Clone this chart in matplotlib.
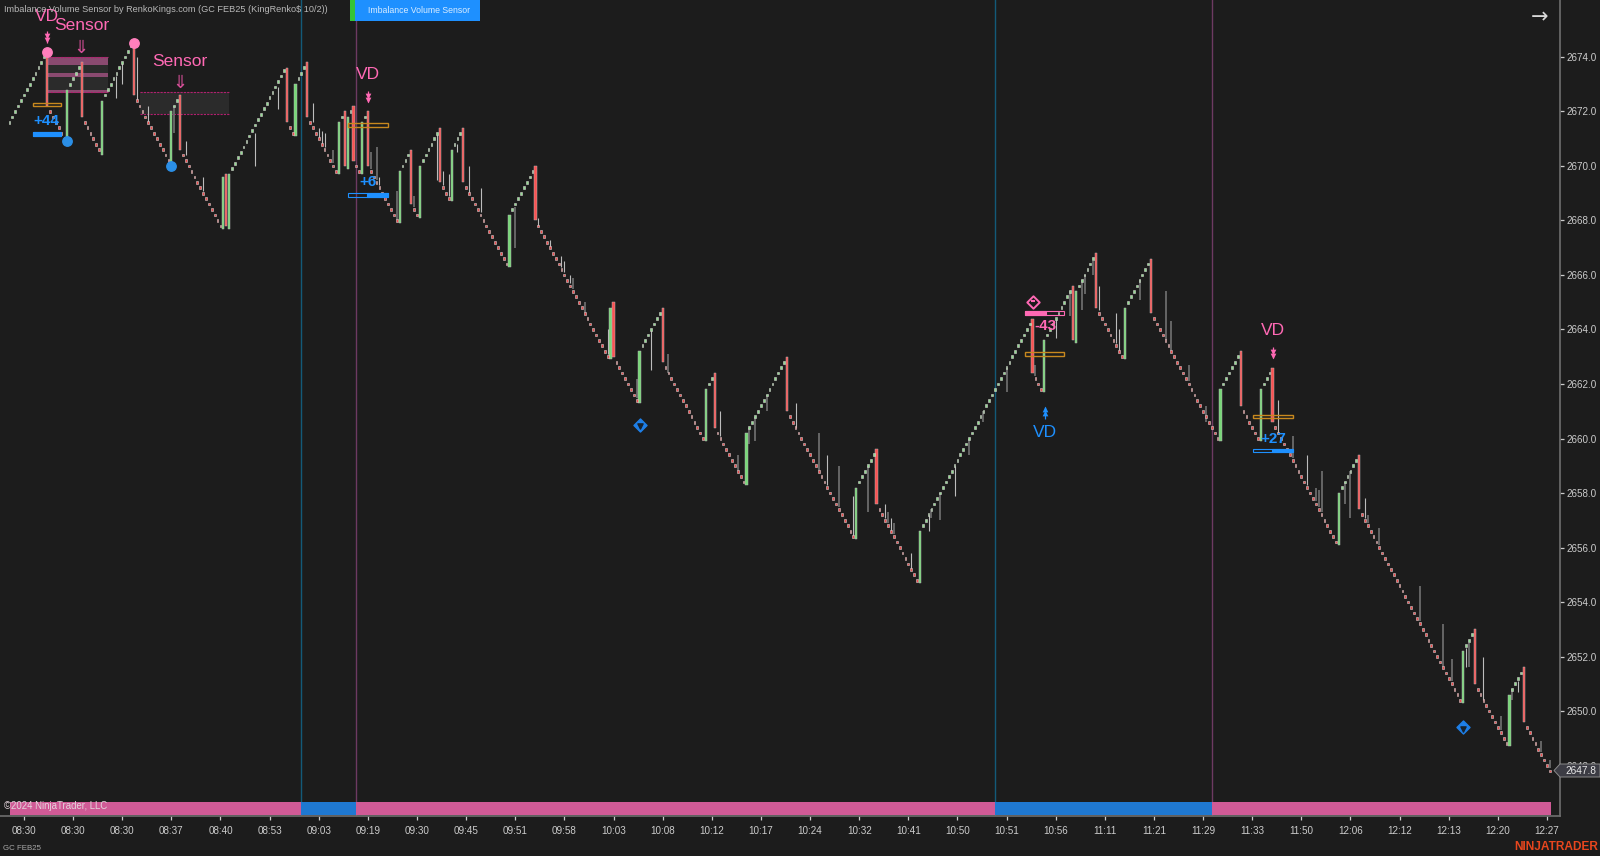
import matplotlib
matplotlib.use("Agg")
import matplotlib.pyplot as plt
from matplotlib.patches import Rectangle, Polygon

plt.rcParams['font.family'] = ['Liberation Sans', 'DejaVu Sans']

# one close per renko bar, a new line at each leg or reversal bar
closes = [
    2671.6, 2671.8, 2672.0, 2672.2, 2672.4, 2672.6, 2672.8, 2673.0, 2673.2, 2673.4, 2673.6, 2673.8, 2674.0,
    2672.2,
    2672.0, 2671.8, 2671.6, 2671.4, 2671.2, 2671.0,
    2672.8,
    2673.0, 2673.2, 2673.4, 2673.6,
    2671.8,
    2671.6, 2671.4, 2671.2, 2671.0, 2670.8, 2670.6,
    2672.4,
    2672.6, 2672.8, 2673.0, 2673.2, 2673.4, 2673.6, 2673.8, 2674.0, 2674.2, 2674.4,
    2672.6,
    2672.4, 2672.2, 2672.0, 2671.8, 2671.6, 2671.4, 2671.2, 2671.0, 2670.8, 2670.6, 2670.4, 2670.2,
    2672.0,
    2672.2, 2672.4,
    2670.6,
    2670.4, 2670.2, 2670.0, 2669.8, 2669.6, 2669.4, 2669.2, 2669.0, 2668.8, 2668.6, 2668.4, 2668.2, 2668.0, 2667.8,
    2669.6, 2667.8, 2669.7,
    2669.9, 2670.1, 2670.3, 2670.5, 2670.7, 2670.9, 2671.1, 2671.3, 2671.5, 2671.7, 2671.9, 2672.1, 2672.3, 2672.5, 2672.7, 2672.9, 2673.1, 2673.3, 2673.5,
    2671.6,
    2671.4, 2671.2,
    2673.0,
    2673.2, 2673.4, 2673.6,
    2671.8,
    2671.6, 2671.4, 2671.2, 2671.0, 2670.8, 2670.6, 2670.4, 2670.2, 2670.0, 2669.8,
    2671.6,
    2671.8,
    2670.0, 2671.8,
    2672.0,
    2670.2,
    2670.0, 2669.8,
    2671.6,
    2671.8,
    2670.0,
    2669.8, 2669.6, 2669.4, 2669.2, 2669.0, 2668.8, 2668.6, 2668.4, 2668.2, 2668.0,
    2669.8,
    2670.0, 2670.2, 2670.4,
    2668.6,
    2668.4, 2668.2,
    2670.0,
    2670.2, 2670.4, 2670.6, 2670.8, 2671.0, 2671.2,
    2669.4,
    2669.2, 2669.0, 2668.8,
    2670.6,
    2670.8, 2671.0, 2671.2,
    2669.4,
    2669.2, 2669.0, 2668.8, 2668.6, 2668.4, 2668.2, 2668.0, 2667.8, 2667.6, 2667.4, 2667.2, 2667.0, 2666.8, 2666.6, 2666.4,
    2668.2,
    2668.4, 2668.6, 2668.8, 2669.0, 2669.2, 2669.4, 2669.6, 2669.8,
    2668.0,
    2667.8, 2667.6, 2667.4, 2667.2, 2667.0, 2666.8, 2666.6, 2666.4, 2666.2, 2666.0, 2665.8, 2665.6, 2665.4, 2665.2, 2665.0, 2664.8, 2664.6, 2664.4, 2664.2, 2664.0, 2663.8, 2663.6, 2663.4, 2663.2, 2663.0,
    2664.8, 2663.0,
    2662.8, 2662.6, 2662.4, 2662.2, 2662.0, 2661.8, 2661.6, 2661.4,
    2663.2,
    2663.4, 2663.6, 2663.8, 2664.0, 2664.2, 2664.4, 2664.6,
    2662.8,
    2662.6, 2662.4, 2662.2, 2662.0, 2661.8, 2661.6, 2661.4, 2661.2, 2661.0, 2660.8, 2660.6, 2660.4, 2660.2, 2660.0,
    2661.8,
    2662.0, 2662.2,
    2660.4,
    2660.2, 2660.0, 2659.8, 2659.6, 2659.4, 2659.2, 2659.0, 2658.8, 2658.6, 2658.4,
    2660.2,
    2660.4, 2660.6, 2660.8, 2661.0, 2661.2, 2661.4, 2661.6, 2661.8, 2662.0, 2662.2, 2662.4, 2662.6, 2662.8,
    2661.0,
    2660.8, 2660.6, 2660.4, 2660.2, 2660.0, 2659.8, 2659.6, 2659.4, 2659.2, 2659.0, 2658.8, 2658.6, 2658.4, 2658.2, 2658.0, 2657.8, 2657.6, 2657.4, 2657.2, 2657.0, 2656.8, 2656.6, 2656.4,
    2658.2,
    2658.4, 2658.6, 2658.8, 2659.0, 2659.2, 2659.4,
    2657.6,
    2657.4, 2657.2, 2657.0, 2656.8, 2656.6, 2656.4, 2656.2, 2656.0, 2655.8, 2655.6, 2655.4, 2655.2, 2655.0, 2654.8,
    2656.6,
    2656.8, 2657.0, 2657.2, 2657.4, 2657.6, 2657.8, 2658.0, 2658.2, 2658.4, 2658.6, 2658.8, 2659.0, 2659.2, 2659.4, 2659.6, 2659.8, 2660.0, 2660.2, 2660.4, 2660.6, 2660.8, 2661.0, 2661.2, 2661.4, 2661.6, 2661.8, 2662.0, 2662.2, 2662.4, 2662.6, 2662.8, 2663.0, 2663.2, 2663.4, 2663.6, 2663.8, 2664.0, 2664.2,
    2662.4,
    2662.2, 2662.0, 2661.8,
    2663.6,
    2663.8, 2664.0, 2664.2, 2664.4, 2664.6, 2664.8, 2665.0, 2665.2, 2665.4,
    2663.6, 2665.4,
    2665.6, 2665.8, 2666.0, 2666.2, 2666.4, 2666.6,
    2664.8,
    2664.6, 2664.4, 2664.2, 2664.0, 2663.8, 2663.6, 2663.4, 2663.2, 2663.0,
    2664.8,
    2665.0, 2665.2, 2665.4, 2665.6, 2665.8, 2666.0, 2666.2, 2666.4,
    2664.6,
    2664.4, 2664.2, 2664.0, 2663.8, 2663.6, 2663.4, 2663.2, 2663.0, 2662.8, 2662.6, 2662.4, 2662.2, 2662.0, 2661.8, 2661.6, 2661.4, 2661.2, 2661.0, 2660.8, 2660.6, 2660.4, 2660.2, 2660.0,
    2661.8,
    2662.0, 2662.2, 2662.4, 2662.6, 2662.8, 2663.0,
    2661.2,
    2661.0, 2660.8, 2660.6, 2660.4, 2660.2, 2660.0,
    2661.8,
    2662.0, 2662.2, 2662.4,
    2660.6,
    2660.4, 2660.2, 2660.0, 2659.8, 2659.6, 2659.4, 2659.2, 2659.0, 2658.8, 2658.6, 2658.4, 2658.2, 2658.0, 2657.8, 2657.6, 2657.4, 2657.2, 2657.0, 2656.8, 2656.6, 2656.4, 2656.2,
    2658.0,
    2658.2, 2658.4, 2658.6, 2658.8, 2659.0, 2659.2,
    2657.4,
    2657.2, 2657.0, 2656.8, 2656.6, 2656.4, 2656.2, 2656.0, 2655.8, 2655.6, 2655.4, 2655.2, 2655.0, 2654.8, 2654.6, 2654.4, 2654.2, 2654.0, 2653.8, 2653.6, 2653.4, 2653.2, 2653.0, 2652.8, 2652.6, 2652.4, 2652.2, 2652.0, 2651.8, 2651.6, 2651.4, 2651.2, 2651.0, 2650.8, 2650.6, 2650.4,
    2652.2,
    2652.4, 2652.6, 2652.8,
    2651.0,
    2650.8, 2650.6, 2650.4, 2650.2, 2650.0, 2649.8, 2649.6, 2649.4, 2649.2, 2649.0, 2648.8,
    2650.6,
    2650.8, 2651.0, 2651.2, 2651.4,
    2649.6,
    2649.4, 2649.2, 2649.0, 2648.8, 2648.6, 2648.4, 2648.2, 2648.0, 2647.8,
]

# opens of the long reversal bars, in the order they appear
reversal_opens = [
    2674.2, 2670.9, 2673.8, 2670.4, 2674.6, 2670.1, 2672.6, 2667.7, 2669.7, 2667.7, 2673.6,
    2671.1, 2673.8, 2669.7, 2672.0, 2669.9, 2672.2, 2669.7, 2672.0, 2667.9, 2670.6, 2668.1,
    2671.4, 2668.7, 2671.4, 2666.3, 2670.0, 2662.9, 2665.0, 2661.3, 2664.8, 2659.9, 2662.4,
    2658.3, 2663.0, 2656.3, 2659.6, 2654.7, 2664.4, 2661.7, 2665.6, 2663.5, 2666.8, 2662.9,
    2666.6, 2659.9, 2663.2, 2659.9, 2662.6, 2656.1, 2659.4, 2650.3, 2653.0, 2648.7, 2651.6,
]

# wicks: bar number, high, low
thin_wick_bars = [37, 39, 44, 48, 61, 67, 85, 93, 105, 107, 108, 109, 128, 148, 150, 152, 155, 159, 163, 183, 187, 191, 192, 194, 207, 222, 246, 272, 283, 292, 303, 305, 312, 318, 327, 362, 377, 383, 384, 439, 449, 469, 504, 510, 522]
thin_wick_highs = [2673.3, 2673.8, 2674.0, 2672.2, 2670.9, 2669.6, 2671.2, 2672.9, 2672.3, 2671.4, 2671.3, 2671.2, 2669.6, 2671.2, 2669.8, 2669.7, 2670.8, 2670.0, 2669.2, 2668.1, 2667.3, 2666.7, 2666.5, 2666.0, 2664.0, 2664.0, 2661.0, 2661.3, 2659.4, 2657.9, 2657.6, 2657.1, 2655.8, 2657.2, 2659.0, 2664.4, 2665.6, 2664.6, 2664.0, 2661.4, 2659.4, 2657.8, 2652.3, 2652.0, 2651.1]
thin_wick_lows = [2672.5, 2673.0, 2672.4, 2671.6, 2670.4, 2669.1, 2670.0, 2672.1, 2671.6, 2671.0, 2670.8, 2670.7, 2669.3, 2669.5, 2669.3, 2668.9, 2670.5, 2669.0, 2668.3, 2667.8, 2667.0, 2666.3, 2666.1, 2665.7, 2663.1, 2662.5, 2660.1, 2660.4, 2658.3, 2656.4, 2657.1, 2656.6, 2655.2, 2656.6, 2657.9, 2663.7, 2664.7, 2663.5, 2663.2, 2660.2, 2658.3, 2657.1, 2651.6, 2650.4, 2650.7]

wide_wick_bars = [57, 112, 125, 127, 134, 140, 175, 195, 199, 217, 228, 252, 256, 258, 262, 280, 287, 297, 304, 306, 319, 322, 332, 337, 345, 355, 367, 371, 372, 375, 391, 400, 402, 408, 414, 444, 452, 453, 454, 462, 464, 470, 474, 488, 496, 499, 505, 516, 520, 530, 533]
wide_wick_highs = [2672.2, 2670.6, 2670.5, 2670.7, 2669.1, 2668.9, 2668.5, 2665.9, 2665.0, 2662.2, 2663.1, 2659.4, 2660.4, 2660.8, 2661.6, 2660.2, 2659.0, 2659.0, 2657.3, 2656.9, 2657.4, 2658.0, 2660.0, 2661.0, 2662.6, 2662.7, 2665.4, 2665.8, 2666.0, 2666.5, 2665.8, 2665.4, 2664.3, 2662.7, 2661.2, 2660.1, 2658.2, 2658.1, 2658.8, 2658.4, 2658.8, 2657.2, 2656.7, 2654.6, 2653.2, 2651.9, 2652.5, 2649.8, 2650.8, 2648.9, 2648.2]
wide_wick_lows = [2671.2, 2670.1, 2669.9, 2669.5, 2668.0, 2668.5, 2667.0, 2665.5, 2664.6, 2661.5, 2662.4, 2658.8, 2659.8, 2659.9, 2661.0, 2658.8, 2657.5, 2657.3, 2656.9, 2656.5, 2657.1, 2657.0, 2659.4, 2660.6, 2661.7, 2662.3, 2664.5, 2664.7, 2665.3, 2666.0, 2665.1, 2663.6, 2663.2, 2662.1, 2660.6, 2659.3, 2657.7, 2657.5, 2657.3, 2657.6, 2657.1, 2656.9, 2656.1, 2653.3, 2651.6, 2651.1, 2651.6, 2649.3, 2650.4, 2648.5, 2647.9]

tick_bars = [5, 22, 39, 56, 73, 90, 107, 124, 141, 158, 175, 192, 209, 226, 243, 260, 277, 294, 311, 328, 345, 362, 379, 396, 413, 430, 447, 464, 481, 498, 515, 532]
tick_labels = ['08:30', '08:30', '08:30', '08:37', '08:40', '08:53', '09:03', '09:19', '09:30', '09:45', '09:51', '09:58', '10:03', '10:08', '10:12', '10:17', '10:24', '10:32', '10:41', '10:50', '10:51', '10:56', '11:11', '11:21', '11:29', '11:33', '11:50', '12:06', '12:12', '12:13', '12:20', '12:27']
price_ticks = [2648, 2650, 2652, 2654, 2656, 2658, 2660, 2662, 2664, 2666, 2668, 2670, 2672, 2674]

# regime strip along the bottom, edges in bars
regime_edges = [0.2, 100.9, 119.8, 340.9, 416.1, 533.3]
regime_colors = ['#d05a96', '#1f78d1', '#d05a96', '#1f78d1', '#d05a96']
session_lines = [100.9, 119.8, 340.9, 416.1]
session_colors = ['#135a78', '#6d3a62', '#135a78', '#6d3a62']

pink_dot_bars = [13, 43]
pink_dot_prices = [2674.2, 2674.5]
blue_dot_bars = [20, 56]
blue_dot_prices = [2670.9, 2670.0]
blue_diamond_bars = [218, 503]
blue_diamond_prices = [2660.5, 2649.4]
pink_diamond_bars = [354]
pink_diamond_prices = [2665.0]

# orange boxes: first bar, last bar, price
orange_starts = [8.1, 117.2, 351.4, 430.4]
orange_ends = [17.7, 130.8, 364.9, 444.0]
orange_prices = [2672.25, 2671.5, 2663.1, 2660.8]

# volume bars: first bar, split, last bar, price, text
vol_starts = [8.1, 117.2, 351.4, 430.4]
vol_splits = [8.1, 123.7, 358.7, 437.0]
vol_ends = [17.7, 130.8, 364.9, 444.0]
vol_prices = [2671.17, 2668.94, 2664.62, 2659.56]
vol_texts = ['+44', '+6', '-43', '+27']
vol_text_bars = [12.9, 123.9, 358.3, 437.2]
vol_text_prices = [2671.64, 2669.41, 2664.13, 2660.0]

vd_bars = [13, 124, 437.3]
vd_prices = [2675.5, 2673.34, 2663.96]
sensor_bars = [25.1, 59]
sensor_prices = [2675.14, 2673.85]
down_arrow_bars = [13, 124, 437.2]
down_arrow_prices = [2674.73, 2672.53, 2663.14]

BG = '#1c1c1c'
PINK = '#ff69b4'
BLUE = '#1e90ff'


def fig_xy(x, y):
    return x / 1600, 1 - y / 856


fig = plt.figure(figsize=(16, 8.56), dpi=100, facecolor=BG)
ax = fig.add_axes([0, 1 - 815.7 / 856, 1560 / 1600, 815.7 / 856], facecolor=BG)
ax.set_xlim(-3.287, 536.5)
ax.set_ylim(2646.16, 2676.09)

for s in ['top', 'left']:
    ax.spines[s].set_visible(False)
for s in ['right', 'bottom']:
    ax.spines[s].set_color('#6e6e6e')
    ax.spines[s].set_linewidth(1.2)
ax.yaxis.tick_right()
ax.set_yticks(price_ticks, [f'{p:.1f}' for p in price_ticks])
ax.set_xticks(tick_bars, tick_labels)
ax.tick_params(axis='x', colors='#cccccc', labelsize=7.1, length=3, width=0.9, pad=4.6)
ax.tick_params(axis='y', colors='#cccccc', labelsize=7.1, length=3, width=0.9, pad=2)

# sensor zones go under the bars
ax.add_patch(Rectangle((13, 2672.7), 21, 1.3, fc='#2b2b2b', ec='none', zorder=1))
ax.add_patch(Rectangle((13, 2673.7), 21, 0.3, fc='#8a4a70', ec='none', zorder=1))
ax.add_patch(Rectangle((13, 2673.28), 21, 0.14, fc='#8a4a70', ec='none', zorder=1))
ax.add_patch(Rectangle((13, 2672.69), 21, 0.1, fc='#8a4a70', ec='none', zorder=1))
ax.hlines([2674.0, 2672.7], 13, 34, colors='#b0206e', lw=0.8, ls=(0, (2, 1)), zorder=1)
ax.add_patch(Rectangle((45.2, 2671.9), 30.8, 0.8, fc='#2b2b2b', ec='none', zorder=1))
ax.hlines([2672.7, 2671.9], 45.2, 76, colors='#b0206e', lw=0.8, ls=(0, (2, 1)), zorder=1)

for b, c in zip(session_lines, session_colors):
    ax.axvline(b, color=c, lw=1.0, zorder=1)
for k, c in enumerate(regime_colors):
    ax.axvspan(regime_edges[k], regime_edges[k + 1], ymin=0.0009, ymax=0.0168, color=c, lw=0, zorder=2)

ax.vlines(thin_wick_bars, thin_wick_lows, thin_wick_highs, colors='#bcbcbc', lw=0.8, zorder=3)
ax.vlines(wide_wick_bars, wide_wick_lows, wide_wick_highs, colors='#6e6e6e', lw=1.25, zorder=3)

# split closes into the small bricks and the long reversal bars
brick_x, brick_y, brick_c = [], [], []
rev_x, rev_lo, rev_h, rev_c = [], [], [], []
n_rev = 0
for i, c in enumerate(closes):
    prev = closes[i - 1] if i else c - 0.2
    if abs(c - prev) > 0.5:
        o = reversal_opens[n_rev]
        n_rev += 1
        rev_x.append(i)
        rev_lo.append(min(o, c))
        rev_h.append(abs(o - c))
        rev_c.append('#78d878' if c > o else '#fa5252')
    else:
        brick_x.append(i)
        brick_y.append(c - 0.05)
        brick_c.append('#8ee08e' if c > prev else '#f04a4c')

ax.bar(rev_x, rev_h, bottom=rev_lo, width=0.78, color=rev_c, edgecolor='#b4b4b4', linewidth=0.35, zorder=4)
ax.bar(brick_x, 0.1, bottom=brick_y, width=0.62, color=brick_c, edgecolor='#d6d0d0', linewidth=0.4, zorder=4)

# signal boxes
for a, b, p in zip(orange_starts, orange_ends, orange_prices):
    ax.add_patch(Rectangle((a, p - 0.06), b - a, 0.12, fc='none', ec='#c8881e', lw=1.0, zorder=5))
for k in range(4):
    col = PINK if vol_texts[k].startswith('-') else BLUE
    p = vol_prices[k]
    ax.add_patch(Rectangle((vol_starts[k], p - 0.07), vol_ends[k] - vol_starts[k], 0.14, fc='none', ec=col, lw=0.8, zorder=5))
    if col == PINK:
        ax.add_patch(Rectangle((vol_starts[k], p - 0.07), vol_splits[k] - vol_starts[k], 0.14, fc=col, ec=col, lw=0.8, zorder=5))
    else:
        ax.add_patch(Rectangle((vol_splits[k], p - 0.07), vol_ends[k] - vol_splits[k], 0.14, fc=col, ec=col, lw=0.8, zorder=5))
    ax.text(vol_text_bars[k], vol_text_prices[k], vol_texts[k], color=col, fontsize=11, fontweight='bold', ha='center', va='center', zorder=7)

ax.scatter(pink_dot_bars, pink_dot_prices, s=46, color='#ff7fbc', zorder=6)
ax.scatter(blue_dot_bars, blue_dot_prices, s=46, color='#2b8fe6', zorder=6)
ax.scatter(blue_diamond_bars, blue_diamond_prices, s=44, marker='D', color='#1e7fe8', zorder=6)
ax.scatter(blue_diamond_bars, [p - 0.05 for p in blue_diamond_prices], s=14, marker='v', color='#16222e', zorder=6)
ax.scatter(pink_diamond_bars, pink_diamond_prices, s=40, marker='D', facecolor=BG, edgecolor=PINK, linewidth=1.4, zorder=6)
ax.scatter(pink_diamond_bars, [p + 0.03 for p in pink_diamond_prices], s=12, marker='_', color=PINK, zorder=6)

# labels and their little arrows
for b, p in zip(vd_bars, vd_prices):
    ax.text(b, p, 'VD', color=PINK, fontsize=12.5, ha='center', va='center', zorder=7)
for b, p in zip(sensor_bars, sensor_prices):
    ax.text(b, p, 'Sensor', color=PINK, fontsize=12.5, ha='center', va='center', zorder=7)
ax.text(358.3, 2660.23, 'VD', color=BLUE, fontsize=12.5, ha='center', va='center', zorder=7)

# stacked heads with a short stem
ax.vlines(down_arrow_bars, [p - 0.2 for p in down_arrow_prices], [p + 0.22 for p in down_arrow_prices], colors=PINK, lw=0.9, zorder=7)
ax.scatter(down_arrow_bars, [p + 0.04 for p in down_arrow_prices], s=17, marker='v', color=PINK, lw=0, zorder=7)
ax.scatter(down_arrow_bars, [p - 0.11 for p in down_arrow_prices], s=17, marker='v', color=PINK, lw=0, zorder=7)
ax.vlines([358.3], [2660.73], [2661.15], colors=BLUE, lw=0.9, zorder=7)
ax.scatter([358.3, 358.3], [2660.95, 2661.08], s=17, marker='^', color=BLUE, lw=0, zorder=7)
for b, p in zip([24.7, 59], [2674.33, 2673.05]):
    ax.text(b, p, '⇓', color='#d9509a', fontsize=13, family='DejaVu Sans', ha='center', va='center', zorder=7)

# header, footer and price tag, placed in figure pixels
fig.text(*fig_xy(4, 9.5), 'Imbalance Volume Sensor by RenkoKings.com (GC FEB25 (KingRenko$ 10/2))',
         color='#b8b8b8', fontsize=6.55, va='center', zorder=8)
fig.add_artist(Rectangle(fig_xy(350, 21), 5 / 1600, 21 / 856, transform=fig.transFigure, fc='#35c435', ec='none'))
fig.add_artist(Rectangle(fig_xy(355, 21), 125 / 1600, 21 / 856, transform=fig.transFigure, fc=BLUE, ec='none'))
fig.text(*fig_xy(419, 10.5), 'Imbalance Volume Sensor', color='#d8ecff', fontsize=6.3, ha='center', va='center', zorder=8)
fig.text(*fig_xy(1540, 17), '→', color='#d8d8d8', fontsize=15, family='DejaVu Sans', ha='center', va='center', zorder=8)
fig.text(*fig_xy(4, 805.7), '©2024 NinjaTrader, LLC', color='#e4d4dc', fontsize=6.9, va='center', zorder=8)
fig.text(*fig_xy(3, 848), 'GC FEB25', color='#a8a8a8', fontsize=5.7, va='center', zorder=8)
fig.text(*fig_xy(1598, 847.5), 'NINJATRADER', color='#e8461e', fontsize=8.6, fontweight='bold', ha='right', va='center', zorder=8)

pts = [fig_xy(*q) for q in [(1554, 770.5), (1560, 764), (1600, 764), (1600, 777), (1560, 777)]]
fig.add_artist(Polygon(pts, closed=True, transform=fig.transFigure, fc='#3c3c44', ec='#8a8a8a', lw=0.7, zorder=9))
fig.text(*fig_xy(1581, 770.5), f'{closes[-1]:.1f}', color='#e8e8e8', fontsize=7.3, ha='center', va='center', zorder=10)

fig.savefig('out.png', dpi=100, facecolor=BG)
